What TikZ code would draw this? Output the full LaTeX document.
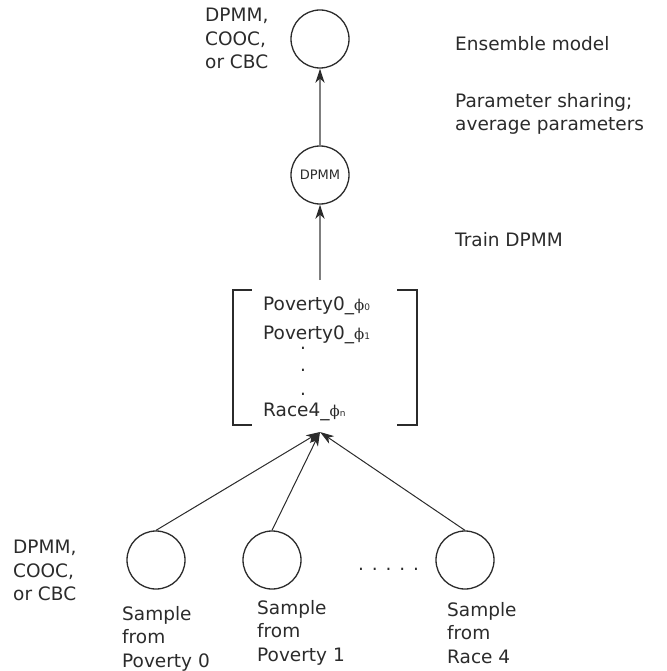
\documentclass[tikz,border=0pt]{standalone}
\usepackage{fontspec}
\setmainfont{DejaVu Sans}
\newfontfamily\phifont{DejaVu Serif}
\usetikzlibrary{arrows.meta}
\definecolor{ink}{HTML}{2B2B2B}
\definecolor{wire}{HTML}{7F7F7F}
\newcommand{\phisub}[1]{{\phifont\fontsize{15}{15}\selectfont ϕ}{\fontsize{9}{9}\selectfont #1}}

\begin{document}
\begin{tikzpicture}[
  x=1pt, y=-1pt,
  every node/.style={text=ink, font=\fontsize{18.5}{23.5}\selectfont},
  model/.style={circle, draw=ink, line width=1.3pt, minimum size=58pt, inner sep=0pt},
  lbl/.style={anchor=north west, inner sep=0pt, align=left},
  trunk/.style={-{Stealth[length=14pt, width=9pt, inset=4pt, color=ink]}, line width=2pt, wire},
  feed/.style={-{Stealth[length=14pt, width=9pt, inset=4pt]}, line width=1pt, ink},
  bracket/.style={line width=2pt, ink},
]
  \useasboundingbox (0,0) rectangle (666,671);

  % top: ensemble and shared DPMM
  \node[model] (ens) at (320, 39) {};
  \node[model, font=\fontsize{13}{13}\selectfont] (dpmm) at (320, 175) {DPMM};
  \node[lbl] (enskind) at (205, 8) {DPMM,\\COOC,\\or CBC};
  \node[lbl] (ensnote) at (455, 36) {Ensemble model};
  \node[lbl] (sharenote) at (455, 93) {Parameter sharing;\\average parameters};
  \node[lbl] (trainnote) at (455, 232) {Train DPMM};

  % parameter vector
  \node[minimum width=184pt, minimum height=135pt, inner sep=0pt] (vec) at (325, 357.5) {};
  \draw[bracket] ([xshift=19pt]vec.north west) -- (vec.north west) -- (vec.south west) -- ([xshift=19pt]vec.south west);
  \draw[bracket] ([xshift=-20pt]vec.north east) -- (vec.north east) -- (vec.south east) -- ([xshift=-20pt]vec.south east);
  \node[lbl] (p0) at (263, 297) {Poverty0\_\phisub{0}};
  \node[lbl] (p1) at (263, 326) {Poverty0\_\phisub{1}};
  \node[inner sep=0pt] (d1) at (303, 348) {.};
  \node[inner sep=0pt] (d2) at (303, 370) {.};
  \node[inner sep=0pt] (d3) at (303, 394) {.};
  \node[lbl] (rn) at (263, 403) {Race4\_\phisub{n}};
  \coordinate (vout) at (320, 280);
  \coordinate (vin) at (320, 432);

  \draw[trunk] (vout) -- (dpmm);
  \draw[trunk] (dpmm) -- (ens);

  % bottom: one model per sample
  \node[model] (s0) at (156, 560) {};
  \node[model] (s1) at (272, 560) {};
  \node[model] (s4) at (465, 560) {};
  \node[anchor=base west, inner sep=0pt] (gap) at (358, 570) {. . . . .};
  \node[lbl] (samplekind) at (13, 540) {DPMM,\\COOC,\\or CBC};
  \node[lbl] (t0) at (122, 606) {Sample\\from\\Poverty 0};
  \node[lbl] (t1) at (257, 600) {Sample\\from\\Poverty 1};
  \node[lbl] (t4) at (447, 602) {Sample\\from\\Race 4};

  \draw[feed] (s0.north) -- (vin);
  \draw[feed] (s1.north) -- (vin);
  \draw[feed] (s4.north) -- (vin);
\end{tikzpicture}
\end{document}
